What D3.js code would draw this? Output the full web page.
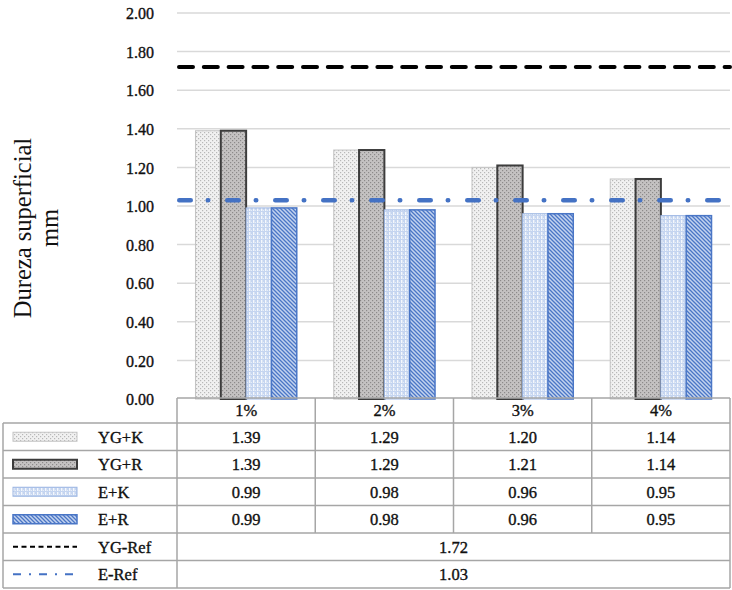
<!DOCTYPE html>
<html>
<head>
<meta charset="utf-8">
<script src="https://cdn.jsdelivr.net/npm/d3@7"></script>
<style>
  html, body { margin: 0; padding: 0; background: #fff; }
  svg { display: block; font-family: "Liberation Serif", "Times New Roman", serif; }
  .lbl { fill: #111; stroke: #111; stroke-width: 0.35px; }
</style>
</head>
<body>
<svg id="chart" width="732" height="590"></svg>
<script>
// Surface hardness by additive percentage
const categories = ["1%", "2%", "3%", "4%"];
const seriesNames = ["YG+K", "YG+R", "E+K", "E+R"];
const ygK = [1.39, 1.29, 1.20, 1.14];
const ygR = [1.39, 1.29, 1.21, 1.14];
const eK = [0.99, 0.98, 0.96, 0.95];
const eR = [0.99, 0.98, 0.96, 0.95];
const refNames = ["YG-Ref", "E-Ref"];
const refValues = [1.72, 1.03];
const yTicks = [0, 0.2, 0.4, 0.6, 0.8, 1.0, 1.2, 1.4, 1.6, 1.8, 2.0];
const yTitle = ["Dureza superficial", "mm"];

const seriesValues = [ygK, ygR, eK, eR];

const svg = d3.select("#chart");
const defs = svg.append("defs");

// fill patterns for the four bar series
function dotPattern(id, bg, dot) {
  const p = defs.append("pattern").attr("id", id)
    .attr("patternUnits", "userSpaceOnUse").attr("width", 4).attr("height", 4);
  p.append("rect").attr("width", 4).attr("height", 4).attr("fill", bg);
  p.append("rect").attr("x", 0).attr("y", 0).attr("width", 1.2).attr("height", 1.2).attr("fill", dot);
  p.append("rect").attr("x", 2).attr("y", 2).attr("width", 1.2).attr("height", 1.2).attr("fill", dot);
}
dotPattern("pYGK", "#f1f1f1", "#b8b8b8");
dotPattern("pYGR", "#c4c2c2", "#8c8a8a");
{
  const p = defs.append("pattern").attr("id", "pEK")
    .attr("patternUnits", "userSpaceOnUse").attr("width", 4).attr("height", 4);
  p.append("rect").attr("width", 4).attr("height", 4).attr("fill", "#c5d5f0");
  p.append("rect").attr("x", 1).attr("y", 0).attr("width", 1.4).attr("height", 3).attr("fill", "#f4f7fc");
  p.append("rect").attr("x", 3).attr("y", 2).attr("width", 0.8).attr("height", 1).attr("fill", "#eef3fb");
}
{
  const p = defs.append("pattern").attr("id", "pER")
    .attr("patternUnits", "userSpaceOnUse").attr("width", 4).attr("height", 4);
  p.append("rect").attr("width", 4).attr("height", 4).attr("fill", "#c3d3ef");
  p.append("path").attr("d", "M-1,-1 L5,5 M3,-1 L5,1 M-1,3 L1,5")
    .attr("stroke", "#4a76c6").attr("stroke-width", 1.3);
}
const fills = ["url(#pYGK)", "url(#pYGR)", "url(#pEK)", "url(#pER)"];
const strokes = ["#c4c4c4", "#3c3c3c", "#9bb5e2", "#4a76c6"];
const strokeWidths = [1, 2, 1, 1.5];

// scales
const plotLeft = 177, plotRight = 730, plotTop = 13, plotBase = 399;
const x0 = d3.scaleBand().domain(categories).range([plotLeft, plotRight]).padding(0);
const x1 = d3.scaleBand().domain(seriesNames).range([0, x0.bandwidth()])
  .paddingInner(0).paddingOuter(0.73);
const y = d3.scaleLinear().domain([0, 2]).range([plotBase, plotTop]);

// gridlines
svg.append("g").selectAll("line").data(yTicks.filter(d => d > 0)).join("line")
  .attr("x1", plotLeft).attr("x2", plotRight)
  .attr("y1", d => y(d)).attr("y2", d => y(d))
  .attr("stroke", "#d9d9d9").attr("stroke-width", 1.5);

// y axis labels
const yAxis = d3.axisLeft(y).tickValues(yTicks).tickFormat(d3.format(".2f")).tickSize(0).tickPadding(0);
const gy = svg.append("g").attr("transform", "translate(154,0)").call(yAxis);
gy.select(".domain").remove();
gy.selectAll("text").attr("class", "lbl").attr("font-family", "Liberation Serif")
  .attr("font-size", 16).attr("dy", "0.35em");

// axis title
const titleG = svg.append("g").attr("transform", "translate(31,228) rotate(-90)");
titleG.append("text").attr("text-anchor", "middle").attr("font-size", 24.5).attr("fill", "#111")
  .text(yTitle[0]);
titleG.append("text").attr("text-anchor", "middle").attr("y", 27).attr("font-size", 24.5).attr("fill", "#111")
  .text(yTitle[1]);

// bars
const gBars = svg.append("g");
seriesNames.forEach((s, si) => {
  gBars.append("g").selectAll("rect").data(seriesValues[si]).join("rect")
    .attr("x", (d, i) => x0(categories[i]) + x1(s))
    .attr("width", x1.bandwidth())
    .attr("y", d => y(d))
    .attr("height", d => plotBase - y(d))
    .attr("fill", fills[si])
    .attr("stroke", strokes[si])
    .attr("stroke-width", strokeWidths[si]);
});

// reference lines
svg.append("line").attr("x1", plotLeft + 2).attr("x2", plotRight)
  .attr("y1", y(refValues[0])).attr("y2", y(refValues[0]))
  .attr("stroke", "#000").attr("stroke-width", 4).attr("stroke-linecap", "round")
  .attr("stroke-dasharray", "14 10.8");
svg.append("line").attr("x1", plotLeft + 2.25).attr("x2", plotRight)
  .attr("y1", y(refValues[1])).attr("y2", y(refValues[1]))
  .attr("stroke", "#4472c4").attr("stroke-width", 4.5).attr("stroke-linecap", "round")
  .attr("stroke-dasharray", "11.5 17 0.5 19");

// data table
const rowTop = [398, 423, 450.5, 478, 505.5, 533, 560.5, 588];
const gridC = "#a6a6a6";
const tbl = svg.append("g");
const rowMid = i => (rowTop[i + 1] + rowTop[i + 2]) / 2;

// horizontal rules
tbl.append("line").attr("x1", plotLeft).attr("x2", plotRight).attr("y1", rowTop[0]).attr("y2", rowTop[0])
  .attr("stroke", gridC).attr("stroke-width", 1.5);
for (let i = 1; i < rowTop.length; i++) {
  tbl.append("line").attr("x1", 3).attr("x2", plotRight).attr("y1", rowTop[i]).attr("y2", rowTop[i])
    .attr("stroke", gridC).attr("stroke-width", 1.5);
}
// vertical rules
tbl.append("line").attr("x1", 3).attr("x2", 3).attr("y1", rowTop[1]).attr("y2", rowTop[7])
  .attr("stroke", gridC).attr("stroke-width", 1.5);
tbl.append("line").attr("x1", plotLeft).attr("x2", plotLeft).attr("y1", rowTop[0]).attr("y2", rowTop[7])
  .attr("stroke", gridC).attr("stroke-width", 1.5);
tbl.append("line").attr("x1", plotRight).attr("x2", plotRight).attr("y1", rowTop[0]).attr("y2", rowTop[7])
  .attr("stroke", gridC).attr("stroke-width", 1.5);
categories.slice(1).forEach(c => {
  tbl.append("line").attr("x1", x0(c)).attr("x2", x0(c)).attr("y1", rowTop[0]).attr("y2", rowTop[5])
    .attr("stroke", gridC).attr("stroke-width", 1.5);
});

const cellText = (x, yv, t) => tbl.append("text").attr("class", "lbl").attr("x", x).attr("y", yv)
  .attr("dy", "0.35em").attr("text-anchor", "middle").attr("font-size", 16.5).text(t);

// header row
categories.forEach(c => cellText(x0(c) + x0.bandwidth() / 2, (rowTop[0] + rowTop[1]) / 2, c));

// series rows
seriesNames.forEach((s, si) => {
  const ym = rowMid(si);
  tbl.append("rect").attr("x", 13).attr("y", ym - 4.5).attr("width", 64).attr("height", 9)
    .attr("fill", fills[si]).attr("stroke", strokes[si]).attr("stroke-width", strokeWidths[si]);
  tbl.append("text").attr("class", "lbl").attr("x", 98).attr("y", ym).attr("dy", "0.35em")
    .attr("font-size", 16.5).text(s);
  seriesValues[si].forEach((v, i) => cellText(x0(categories[i]) + x0.bandwidth() / 2, ym, v.toFixed(2)));
});

// reference rows
const refStyles = [
  { stroke: "#000", dash: "5 3.5", w: 1.8 },
  { stroke: "#4472c4", dash: "8 8 2 8", w: 2 }
];
refNames.forEach((r, ri) => {
  const ym = rowMid(4 + ri);
  tbl.append("line").attr("x1", 13).attr("x2", 77).attr("y1", ym).attr("y2", ym)
    .attr("stroke", refStyles[ri].stroke).attr("stroke-width", refStyles[ri].w)
    .attr("stroke-dasharray", refStyles[ri].dash);
  tbl.append("text").attr("class", "lbl").attr("x", 98).attr("y", ym).attr("dy", "0.35em")
    .attr("font-size", 16.5).text(r);
  cellText((plotLeft + plotRight) / 2, ym, refValues[ri].toFixed(2));
});
</script>
</body>
</html>
